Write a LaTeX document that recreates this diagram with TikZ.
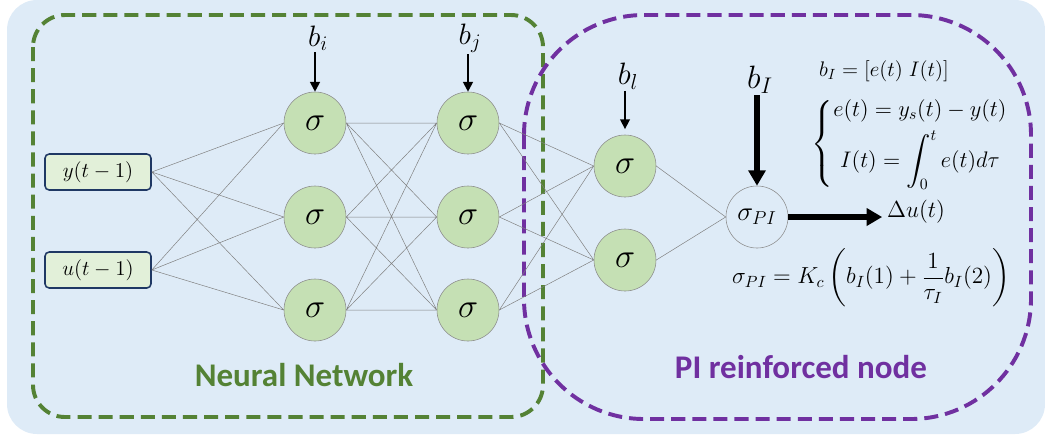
\RequirePackage{fix-cm}
\documentclass[tikz,border=0pt]{standalone}
\usepackage{amsmath}
\usepackage{fontspec}
\setsansfont{Carlito}
\usetikzlibrary{arrows.meta}

\definecolor{bgblue}{HTML}{DEEBF7}
\definecolor{nngreen}{HTML}{548235}
\definecolor{pipurple}{HTML}{7030A0}
\definecolor{cellgreen}{HTML}{C5E0B4}
\definecolor{inputgreen}{HTML}{E2F0D9}
\definecolor{inputline}{HTML}{1F3864}

\tikzset{
  neuron/.style={circle,draw=gray!90,fill=cellgreen,minimum size=1.55cm,inner sep=0pt,
    font=\fontsize{24}{26}\selectfont},
  inbox/.style={draw=inputline,line width=1.1pt,fill=inputgreen,rounded corners=3pt,
    minimum width=2.65cm,minimum height=0.9cm,font=\fontsize{15}{17}\selectfont},
  wire/.style={draw=gray,line width=0.35pt},
  boxline/.style={line width=2.8pt,dash pattern=on 10pt off 5pt},
  biasarrow/.style={line width=1.4pt,-{Triangle[length=7pt,width=7pt]}},
  bigarrow/.style={line width=3.6pt,-{Triangle[length=11pt,width=12pt]}},
  frametitle/.style={font=\sffamily\bfseries\fontsize{23.5}{26}\selectfont}
}

\begin{document}
\begin{tikzpicture}[x=0.025cm,y=-0.025cm]
\useasboundingbox (0,0) rectangle (1045,437);
% background and the two frames
\fill[bgblue,rounded corners=0.75cm] (7,0) rectangle (1045,434);
\draw[nngreen,boxline,rounded corners=0.8cm] (33,15) rectangle (543,417);
\draw[pipurple,boxline,rounded corners=3cm] (524,15) rectangle (1031,419);

% inputs
\node[inbox] (in1) at (98,172) {$y(t-1)$};
\node[inbox] (in2) at (98,270) {$u(t-1)$};

% hidden layers
\node[neuron] (h11) at (315,123) {$\sigma$};
\node[neuron] (h12) at (315,217) {$\sigma$};
\node[neuron] (h13) at (315,310) {$\sigma$};
\node[neuron] (h21) at (468,123) {$\sigma$};
\node[neuron] (h22) at (468,217) {$\sigma$};
\node[neuron] (h23) at (468,310) {$\sigma$};
\node[neuron] (h31) at (625,166) {$\sigma$};
\node[neuron] (h32) at (625,260) {$\sigma$};
\node[circle,draw=gray!90,minimum size=1.55cm,inner sep=0pt,font=\fontsize{19}{21}\selectfont]
  (pi) at (757,217) {$\sigma_{PI}$};

% connections
\draw[wire] (in1.east) -- (h11.west) (in1.east) -- (h12.west) (in1.east) -- (h13.west)
  (in2.east) -- (h11.west) (in2.east) -- (h12.west) (in2.east) -- (h13.west);
\draw[wire] (h11.east) -- (h21.west) (h11.east) -- (h22.west) (h11.east) -- (h23.west)
  (h12.east) -- (h21.west) (h12.east) -- (h22.west) (h12.east) -- (h23.west)
  (h13.east) -- (h21.west) (h13.east) -- (h22.west) (h13.east) -- (h23.west);
\draw[wire] (h21.east) -- (h31.west) (h21.east) -- (h32.west)
  (h22.east) -- (h31.west) (h22.east) -- (h32.west)
  (h23.east) -- (h31.west) (h23.east) -- (h32.west);
\draw[wire] (h31.east) -- (pi.west) (h32.east) -- (pi.west);

% biases
\node[inner sep=1pt,font=\fontsize{21}{23}\selectfont] (bi) at (318,38) {$b_i$};
\node[inner sep=1pt,font=\fontsize{21}{23}\selectfont] (bj) at (470,38) {$b_j$};
\node[inner sep=1pt,font=\fontsize{22}{24}\selectfont] (bl) at (628,76) {$b_l$};
\node[inner sep=1pt,font=\fontsize{23}{25}\selectfont] (bI) at (760,80) {$b_I$};
\draw[biasarrow] (h11.north |- bi.south) -- (h11.north);
\draw[biasarrow] (h21.north |- bj.south) -- (h21.north);
\draw[biasarrow,line width=1.1pt,shorten >=4pt] (h31.north |- bl.south) -- (h31.north);
\draw[bigarrow] (pi.north |- bI.south) -- (pi.north);

% output
\node[font=\fontsize{16.5}{18}\selectfont] (du) at (916,212) {$\Delta u(t)$};
\draw[bigarrow] (pi.east) -- (pi.east -| du.west);

% PI relations
\node[inner sep=1pt,font=\fontsize{15}{17}\selectfont] (bIdef) at (884,71) {$b_I=[e(t)\;I(t)]$};
\node[inner sep=1pt,font=\fontsize{16}{18}\selectfont] (picases) at (910,144)
  {$\left\{\begin{array}{@{}c@{}} e(t)=y_s(t)-y(t)\\[5pt] I(t)=\displaystyle\int_0^t e(t)d\tau \end{array}\right.$};
\node[font=\fontsize{16.5}{18}\selectfont] (pilaw) at (871,278)
  {$\sigma_{PI}=K_c\left(b_I(1)+\dfrac{1}{\tau_I}b_I(2)\right)$};

% frame titles
\node[frametitle,text=nngreen] (nnlabel) at (304,375) {Neural Network};
\node[frametitle,text=pipurple] (pilabel) at (801,367) {PI reinforced node};
\end{tikzpicture}
\end{document}
